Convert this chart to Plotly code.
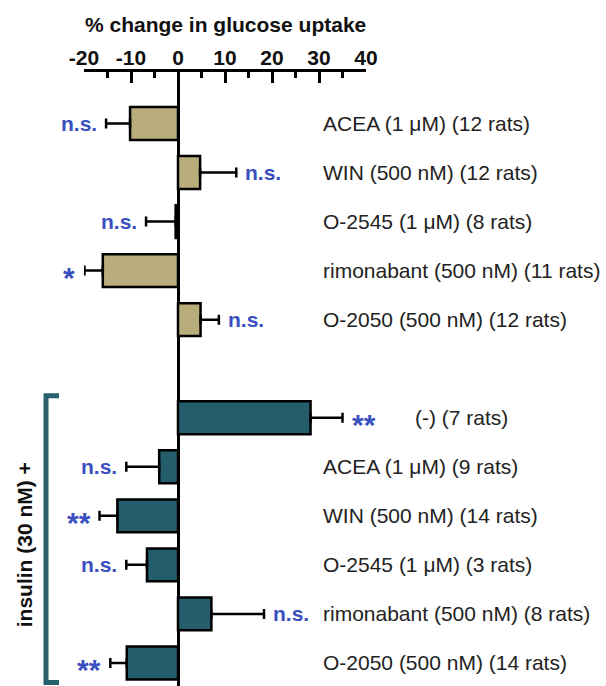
import plotly.graph_objects as go

# ---- data ----
labels_basal = ["ACEA (1 μM) (12 rats)", "WIN (500 nM) (12 rats)", "O-2545 (1 μM) (8 rats)",
                "rimonabant (500 nM) (11 rats)", "O-2050 (500 nM) (12 rats)"]
values_basal = [-10.2, 4.7, -0.5, -16.0, 4.8]
errors_basal = [5.1, 7.7, 6.3, 3.9, 3.9]
sig_basal = ["n.s.", "n.s.", "n.s.", "*", "n.s."]

labels_ins = ["(-) (7 rats)", "ACEA (1 μM) (9 rats)", "WIN (500 nM) (14 rats)",
              "O-2545 (1 μM) (3 rats)", "rimonabant (500 nM) (8 rats)", "O-2050 (500 nM) (14 rats)"]
values_ins = [28.2, -4.0, -12.9, -6.6, 7.1, -10.9]
errors_ins = [6.8, 7.0, 3.8, 4.4, 11.2, 3.5]
sig_ins = ["**", "n.s.", "**", "n.s.", "n.s.", "**"]

pos_basal = [0, 1, 2, 3, 4]
pos_ins = [6, 7, 8, 9, 10, 11]

x_ticks = [-20, -10, 0, 10, 20, 30, 40]

FONT = "Liberation Sans, Arial, sans-serif"
KHAKI = "#b8ad7b"
TEAL = "#245e6d"
BLUE = "#3a4fc0"

fig = go.Figure()


def add_group(vals, errs, pos, color):
    plus = [e if v >= 0 else 0 for v, e in zip(vals, errs)]
    minus = [e if v < 0 else 0 for v, e in zip(vals, errs)]
    fig.add_trace(go.Bar(
        x=vals, y=pos, orientation="h", width=0.67,
        marker=dict(color=color, line=dict(color="black", width=2.5)),
        error_x=dict(type="data", symmetric=False, array=plus, arrayminus=minus,
                     color="black", thickness=2.5, width=5),
        showlegend=False, hoverinfo="skip",
    ))


add_group(values_basal, errors_basal, pos_basal, KHAKI)
add_group(values_ins, errors_ins, pos_ins, TEAL)


def px2paper(px):
    return (px - 84) / 282.0


ann = []
for labels, vals, errs, sigs, pos in [
    (labels_basal, values_basal, errors_basal, sig_basal, pos_basal),
    (labels_ins, values_ins, errors_ins, sig_ins, pos_ins),
]:
    for lab, v, e, s, p in zip(labels, vals, errs, sigs, pos):
        lx = px2paper(413) if lab.startswith("(-)") else px2paper(321)
        ann.append(dict(x=lx, y=p, xref="paper", yref="y", text=lab, showarrow=False,
                        xanchor="left", yanchor="middle",
                        font=dict(family=FONT, size=21, color="#222222")))
        end = v + e if v >= 0 else v - e
        star = s.startswith("*")
        ann.append(dict(x=end, y=p, xref="x", yref="y", text=s, showarrow=False,
                        xanchor="left" if v >= 0 else "right",
                        xshift=7 if v >= 0 else -7,
                        yshift=-7 if star else 0,
                        yanchor="middle",
                        font=dict(family=FONT, size=30 if star else 21, color=BLUE, weight="bold")))

ann.append(dict(x=0.5035, y=1.078, xref="paper", yref="paper", text="% change in glucose uptake",
                showarrow=False, xanchor="center", yanchor="middle",
                font=dict(family=FONT, size=21, color="#111111", weight="bold")))

ann.append(dict(x=px2paper(24), y=8.6, xref="paper", yref="y", text="insulin (30 nM) +",
                textangle=-90, showarrow=False, xanchor="center", yanchor="middle",
                font=dict(family=FONT, size=21, color="#111111", weight="bold")))

fig.add_shape(type="path", xref="paper", yref="y",
              path=f"M {px2paper(59)},5.55 L {px2paper(46)},5.55 L {px2paper(46)},11.4 L {px2paper(59)},11.4",
              line=dict(color="#2a5f6e", width=5))

fig.update_layout(
    width=606, height=686,
    margin=dict(l=84, r=240, t=72, b=0),
    paper_bgcolor="white", plot_bgcolor="white",
    annotations=ann,
    barmode="overlay",
    xaxis=dict(
        side="top", range=[-20, 40], tickvals=x_ticks,
        ticktext=[str(t) for t in x_ticks],
        showline=True, linecolor="black", linewidth=2.5,
        ticks="inside", ticklen=11, tickwidth=2.5, tickcolor="black",
        ticklabelstandoff=-4,
        minor=dict(dtick=5, tick0=0, ticks="inside", ticklen=6, tickwidth=2.5, tickcolor="black"),
        showgrid=False, zeroline=True, zerolinecolor="black", zerolinewidth=2.5,
        tickfont=dict(family=FONT, size=21, color="#111111", weight="bold"),
        fixedrange=True,
    ),
    yaxis=dict(range=[11.47, -1.05], visible=False, showgrid=False, zeroline=False, fixedrange=True),
)

fig.write_html("out.html")
